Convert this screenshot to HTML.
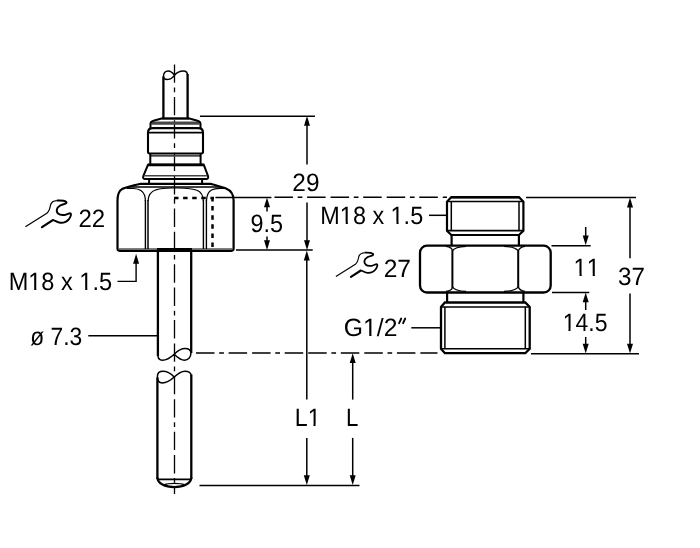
<!DOCTYPE html>
<html><head><meta charset="utf-8"><title>drawing</title>
<style>
html,body{margin:0;padding:0;background:#fff;width:700px;height:548px;overflow:hidden;}
svg{display:block;}
svg{filter:grayscale(1);}
text{font-family:"Liberation Sans",sans-serif;font-size:25px;fill:#000;text-rendering:geometricPrecision;font-kerning:none;}
.cl{stroke-width:1.3;stroke-dasharray:18.4 4.9 18.4 4.7 4.7 4.7;}
.dd{stroke-width:1.5;stroke-dasharray:18.5 5 18.5 4.7 4.7 4.7;}
</style></head>
<body>
<svg width="700" height="548" viewBox="0 0 700 548">
<rect width="700" height="548" fill="#fff"/>
<g fill="none" stroke="#000">
<line class="cl" x1="174.5" y1="64.5" x2="174.5" y2="494" stroke-dashoffset="23.4"/>
<g stroke-width="2.3"><line x1="163.4" y1="76.5" x2="163.4" y2="118"/><line x1="187.6" y1="74" x2="187.6" y2="118"/></g>
<path stroke-width="1.4" d="M163.4,77 C163.4,73 165.5,71 168.3,71 C171,71 173,73.2 174.5,75.3 C176.2,73.2 179.5,71 183.3,71 C186,71 187.6,72.5 187.6,75.5 M163.4,77 C163.6,79 165.8,79.6 168.2,79.4 C171,79.1 173,77.3 174.5,75.3"/>
<line x1="162" y1="118.5" x2="189" y2="118.5" stroke-width="2.4"/>
<path d="M152.6,121.4 L198.4,121.4 L199.7,124.7 L151.3,124.7 Z" fill="#474747" stroke="none"/>
<path stroke-width="2" d="M162.5,118.3 L153.5,120.7 Q150.5,121.5 150.5,124 L150.5,128 M188.5,118.3 L197.5,120.7 Q200.5,121.5 200.5,124 L200.5,128"/>
<path stroke-width="2.1" d="M148,151.8 L148,132.5 Q148,128.1 153,128.1 L198,128.1 Q203,128.1 203,132.5 L203,151.8 Q203,153.5 201.3,153.5 L149.7,153.5 Q148,153.5 148,151.8 Z"/>
<line x1="148" y1="132.6" x2="203" y2="132.6" stroke-width="1.8"/>
<rect x="151" y="154.9" width="49" height="1.8" fill="#444" stroke="none"/>
<g stroke-width="2"><line x1="150.3" y1="153.5" x2="150.3" y2="164.8"/><line x1="200.6" y1="153.5" x2="200.6" y2="164.8"/></g>
<path stroke-width="2" d="M148,164.8 L203.8,164.8 L208,176 Q208.9,179 206,179 L145.2,179 Q142.4,179 143.3,176 Z"/>
<line x1="148" y1="164.9" x2="203.8" y2="164.9" stroke-width="2.8"/>
<path d="M143.8,175 L207.2,175 L207.5,176.6 L143.5,176.6 Z" fill="#444" stroke="none"/>
<g stroke-width="2"><line x1="149.1" y1="179" x2="149.1" y2="183.8"/><line x1="202.1" y1="179" x2="202.1" y2="183.8"/></g>
<path stroke-width="2.2" d="M141,183.8 L210.6,183.8 C216,185.4 222,187.1 226,188.5 C231,190.5 233.6,194 233.6,200.5 L233.6,248.6 Q233.6,250.8 231.4,250.8 L119.7,250.8 Q117.5,250.8 117.5,248.6 L117.5,201 C117.5,195 118.5,191 122,189.1 C125,187.6 131,186 141,183.8 Z"/>
<line x1="127.5" y1="187" x2="221.5" y2="187" stroke-width="1.5"/>
<line x1="118.5" y1="249" x2="232.6" y2="249" stroke-width="1.5" stroke="#555"/>
<g stroke-width="1.2"><line x1="145.4" y1="200" x2="145.4" y2="249" stroke-width="1.4"/><line x1="148" y1="200" x2="148" y2="249" stroke-width="1.5"/><line x1="203.4" y1="200" x2="203.4" y2="249" stroke-width="1.4"/><line x1="206.4" y1="200" x2="206.4" y2="249" stroke-width="1.4"/><path d="M126.5,188.5 L133.5,188.5 C139,188.8 143.5,191.5 144.7,195.5 C145.2,197.5 145.4,199 145.4,201"/><path d="M148,201 C148.3,195 151,191.5 156,189.8 C161,188.4 166,188.1 172,188 L178,188 C186,188.1 193,188.6 197.5,190.5 C201,192 203,195 203.4,201"/><path d="M206.4,201 C206.8,195 208.5,191.5 211.5,190 C213.5,189 216,188.4 219.5,188.3 L224,188.5"/></g>
<g stroke-width="2.5" stroke-dasharray="4.5 4.6"><line x1="174" y1="198" x2="214" y2="198"/><line x1="212.5" y1="197" x2="212.5" y2="249"/></g>
<rect x="157" y="248" width="35" height="3.6" fill="#000" stroke="none"/>
<g stroke-width="2.3"><line x1="157.9" y1="250" x2="157.9" y2="356"/><line x1="191.2" y1="250" x2="191.2" y2="353"/><line x1="157.4" y1="377.5" x2="157.4" y2="479"/><line x1="191.3" y1="374.5" x2="191.3" y2="479"/></g>
<path stroke-width="1.5" d="M157.9,355 C158,359 159.8,360.2 162.3,360.2 C166.5,360.2 171,357.2 174.2,354.2 C177.3,351.2 181,348.5 185,348.5 C188.6,348.5 190.9,350.3 190.9,353.3 C190.9,357.5 188,360.2 184.6,360.2 C181,360.2 177.5,357.5 174.2,354.2"/>
<path stroke-width="1.5" d="M174.2,377 C171,373.8 167,371.3 163,371.3 C159.5,371.3 157.4,373.5 157.4,376.5 C157.4,380.5 159.5,382.9 162.3,382.9 C166.5,382.9 171,380 174.2,377 C177.5,373.8 181,371.2 185,371.2 C188.5,371.2 191.2,373 191.2,376"/>
<line x1="157.4" y1="479.4" x2="191.3" y2="479.4" stroke-width="1.8"/>
<path stroke-width="2.3" d="M157.4,477.5 C157.6,483.5 165,487.1 174.3,487.1 C183.6,487.1 191.1,483.5 191.3,477.5"/>
<path stroke-width="1.3" d="M164.2,484.9 C169,482.9 180,482.9 184.6,484.9"/>
<g stroke-width="1.5"><line x1="200" y1="116.3" x2="315" y2="116.3"/><line x1="307" y1="122" x2="307" y2="164.4"/><line x1="307" y1="202.4" x2="307" y2="244"/><line x1="215.4" y1="197.4" x2="271.4" y2="197.4"/><line x1="267" y1="203" x2="267" y2="211.6"/><line x1="267" y1="236.4" x2="267" y2="244"/><line x1="236" y1="250" x2="312.7" y2="250"/><line x1="306.8" y1="256" x2="306.8" y2="399.6"/><line x1="306.8" y1="437.9" x2="306.8" y2="479"/><line x1="352.7" y1="359" x2="352.7" y2="399.6"/><line x1="352.7" y1="437.9" x2="352.7" y2="479"/><line x1="199.5" y1="485.4" x2="359.5" y2="485.4"/><path d="M117.5,281.4 L136.1,281.4 L136.1,259" stroke-width="1.4"/><line x1="88.3" y1="335.8" x2="157" y2="335.8"/></g>
<line class="dd" x1="271.4" y1="197.2" x2="447" y2="197.2" stroke-dashoffset="20.4"/>
<line class="dd" x1="196" y1="352.9" x2="437.5" y2="352.9" stroke-dashoffset="23.5"/>
<g fill="#000" stroke="none"><path d="M307,116 L310.0,125.8 L304.0,125.8 Z"/><path d="M307,250 L310.0,240.2 L304.0,240.2 Z"/><path d="M267,197.5 L270.0,207.3 L264.0,207.3 Z"/><path d="M267,250 L270.0,240.2 L264.0,240.2 Z"/><path d="M306.8,250.6 L309.8,260.4 L303.8,260.4 Z"/><path d="M306.8,485 L309.8,475.2 L303.8,475.2 Z"/><path d="M352.7,353.2 L355.7,363.0 L349.7,363.0 Z"/><path d="M352.7,485 L355.7,475.2 L349.7,475.2 Z"/><path d="M136.1,253.8 L139.1,263.8 L133.1,263.8 Z"/><path d="M630,197.6 L633.0,207.4 L627.0,207.4 Z"/><path d="M630,353.6 L633.0,343.8 L627.0,343.8 Z"/><path d="M585.7,245.3 L588.7,235.5 L582.7,235.5 Z"/><path d="M585.7,292.4 L588.7,302.2 L582.7,302.2 Z"/><path d="M585.7,353.6 L588.7,343.8 L582.7,343.8 Z"/></g>
<path stroke-width="2.2" d="M451.3,197.2 L519,197.2 L523.4,201.6 L523.4,230.7 L519,235 L451.3,235 L447,230.7 L447,201.6 Z"/>
<line x1="451.3" y1="197.2" x2="519" y2="197.2" stroke-width="2.5"/>
<g stroke-width="1.6"><line x1="447" y1="201.6" x2="523.4" y2="201.6" stroke-width="1.5"/><line x1="447" y1="230.7" x2="523.4" y2="230.7" stroke-width="1.7"/><line x1="451.3" y1="201.6" x2="451.3" y2="230.7" stroke-width="1.5"/><line x1="519" y1="201.6" x2="519" y2="230.7" stroke-width="1.5"/></g>
<g stroke-width="2.2"><line x1="451.6" y1="235" x2="451.6" y2="246"/><line x1="518.9" y1="235" x2="518.9" y2="246"/><line x1="447.1" y1="292" x2="447.1" y2="302.5"/><line x1="523.4" y1="292" x2="523.4" y2="302.5"/></g>
<rect x="420" y="245.7" width="130.7" height="46.8" rx="7" ry="7" stroke-width="2.3"/>
<g stroke-width="2"><line x1="452.4" y1="250.5" x2="452.4" y2="287.5"/><line x1="518.2" y1="250.5" x2="518.2" y2="287.5"/></g>
<g stroke-width="1.3"><path d="M446,246.3 C450,246.8 452.4,248.5 452.4,251 M452.4,251 C454,248 458,246.6 466,246.3"/><path d="M504,246.3 C512,246.6 516.5,248 518.2,251 M518.2,251 C519,248.5 521,246.8 525,246.3"/><path d="M446,291.4 C450,290.9 452.4,289.2 452.4,286.7 M452.4,286.7 C454,289.7 458,291.1 466,291.4"/><path d="M504,291.4 C512,291.1 516.5,289.7 518.2,286.7 M518.2,286.7 C519,289.2 521,290.9 525,291.4"/></g>
<path stroke-width="2.3" d="M444.9,302.5 L525.3,302.5 L529.7,306.9 L529.7,348.7 L525.3,353.2 L444.9,353.2 L441,348.7 L441,306.9 Z"/>
<g stroke-width="1.5"><line x1="441" y1="306.9" x2="529.7" y2="306.9"/><line x1="441" y1="348.7" x2="529.7" y2="348.7"/><line x1="444.9" y1="306.9" x2="444.9" y2="348.7"/><line x1="525.3" y1="306.9" x2="525.3" y2="348.7"/></g>
<g stroke-width="1.5"><line x1="526" y1="197.6" x2="636" y2="197.6"/><line x1="630" y1="203" x2="630" y2="258.3"/><line x1="630" y1="293.4" x2="630" y2="348"/><line x1="585.7" y1="227" x2="585.7" y2="240"/><line x1="551.5" y1="245.8" x2="590.7" y2="245.8"/><line x1="552" y1="292.4" x2="589.3" y2="292.4"/><line x1="585.7" y1="298" x2="585.7" y2="310"/><line x1="585.7" y1="337" x2="585.7" y2="348"/><line x1="531" y1="353.7" x2="639" y2="353.7"/><line x1="429" y1="215.3" x2="446" y2="215.3"/><line x1="411.3" y1="327.8" x2="440" y2="327.8"/></g>
<path stroke-width="1.15" stroke-linejoin="round"  d="M335.9,276.6 L355.4,264.2 C357.6,262.5 358.3,259.5 358.8,256.5 C359.5,254.2 361.5,252.9 364.5,252.7"/><path stroke-width="1.75" stroke-linejoin="round"  d="M364.5,252.7 C368,252.5 371.5,252.8 372.8,253.8 C373.8,254.6 373,255.5 371.2,255.8 C369,256.2 366.6,257.3 365.3,259 C364.1,261 364.3,263.2 365.6,264.5 C367.3,266.1 370,266.1 372.4,265.6 C374.5,265.1 375.8,263.9 376.9,264.3 C377.8,264.9 377.3,267 375.7,269.3 C373.8,271.7 370.8,273.1 367.6,272.9 C364.8,272.7 362.7,270.7 360.8,270.5"/><path stroke-width="2.1" stroke-linecap="round"  d="M360.8,270.5 L351,276.9"/>
<path stroke-width="1.15" stroke-linejoin="round" transform="translate(25.2,199.8) scale(1.0995,1.0984) translate(-335.7,-252)" d="M335.9,276.6 L355.4,264.2 C357.6,262.5 358.3,259.5 358.8,256.5 C359.5,254.2 361.5,252.9 364.5,252.7"/><path stroke-width="1.75" stroke-linejoin="round" transform="translate(25.2,199.8) scale(1.0995,1.0984) translate(-335.7,-252)" d="M364.5,252.7 C368,252.5 371.5,252.8 372.8,253.8 C373.8,254.6 373,255.5 371.2,255.8 C369,256.2 366.6,257.3 365.3,259 C364.1,261 364.3,263.2 365.6,264.5 C367.3,266.1 370,266.1 372.4,265.6 C374.5,265.1 375.8,263.9 376.9,264.3 C377.8,264.9 377.3,267 375.7,269.3 C373.8,271.7 370.8,273.1 367.6,272.9 C364.8,272.7 362.7,270.7 360.8,270.5"/><path stroke-width="2.1" stroke-linecap="round" transform="translate(25.2,199.8) scale(1.0995,1.0984) translate(-335.7,-252)" d="M360.8,270.5 L351,276.9"/>
<g stroke-width="1.9" stroke-linecap="round"><line x1="401.2" y1="318.6" x2="399.1" y2="323.2"/><line x1="405.2" y1="318.6" x2="403.1" y2="323.2"/></g>
</g>
<g>
<g transform="translate(78.38,227.00) scale(0.9621,1)"><text>22</text></g>
<g transform="translate(8.66,290.00) scale(0.9418,1)"><text>M18 x 1.5</text><rect x="22.05" y="-2.20" width="5.03" height="3.00" fill="#fff"/><rect x="29.36" y="-2.20" width="4.90" height="3.00" fill="#fff"/><rect x="76.25" y="-2.20" width="5.03" height="3.00" fill="#fff"/><rect x="83.56" y="-2.20" width="4.90" height="3.00" fill="#fff"/></g>
<g transform="translate(30.20,345.00) scale(0.9132,1)"><text>ø 7.3</text></g>
<g transform="translate(292.36,191.00) scale(0.9773,1)"><text>29</text></g>
<g transform="translate(250.58,232.00) scale(0.9364,1)"><text>9.5</text></g>
<g transform="translate(294.74,426.00) scale(0.9275,1)"><text>L1</text><rect x="15.12" y="-2.20" width="5.03" height="3.00" fill="#fff"/><rect x="22.44" y="-2.20" width="4.90" height="3.00" fill="#fff"/></g>
<g transform="translate(346.07,426.00) scale(0.8893,1)"><text>L</text></g>
<g transform="translate(320.37,224.00) scale(0.9362,1)"><text>M18 x 1.5</text><rect x="22.05" y="-2.20" width="5.03" height="3.00" fill="#fff"/><rect x="29.36" y="-2.20" width="4.90" height="3.00" fill="#fff"/><rect x="76.25" y="-2.20" width="5.03" height="3.00" fill="#fff"/><rect x="83.56" y="-2.20" width="4.90" height="3.00" fill="#fff"/></g>
<g transform="translate(383.65,277.00) scale(0.9858,1)"><text>27</text></g>
<g transform="translate(343.82,336.00) scale(0.9889,1)"><text>G1/2</text><rect x="20.67" y="-2.20" width="5.03" height="3.00" fill="#fff"/><rect x="27.98" y="-2.20" width="4.90" height="3.00" fill="#fff"/></g>
<g transform="translate(573.61,276.00) scale(0.9467,1)"><text>11</text><rect x="1.22" y="-2.20" width="5.03" height="3.00" fill="#fff"/><rect x="8.53" y="-2.20" width="4.90" height="3.00" fill="#fff"/><rect x="15.12" y="-2.20" width="5.03" height="3.00" fill="#fff"/><rect x="22.44" y="-2.20" width="4.90" height="3.00" fill="#fff"/></g>
<g transform="translate(618.06,285.00) scale(0.9703,1)"><text>37</text></g>
<g transform="translate(562.68,331.00) scale(0.9195,1)"><text>14.5</text><rect x="1.22" y="-2.20" width="5.03" height="3.00" fill="#fff"/><rect x="8.53" y="-2.20" width="4.90" height="3.00" fill="#fff"/></g>
</g>
</svg>
</body></html>
